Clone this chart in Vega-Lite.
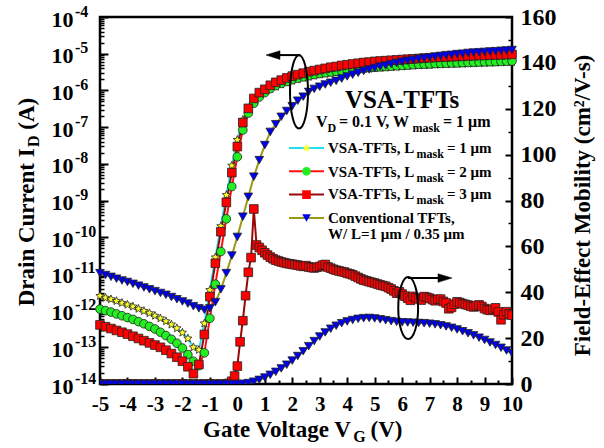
{
"$schema": "https://vega.github.io/schema/vega-lite/v6.json",
"width": 412, "height": 367,
"autosize": {"type": "none"},
"padding": {"left": 100, "top": 17, "right": 92, "bottom": 64},
"background": "white",
"datasets": {
"cur": [
{"s":"L1","x":-5,"i":2.51e-12},{"s":"L1","x":-4.8,"i":2.24e-12},{"s":"L1","x":-4.6,"i":2.04e-12},{"s":"L1","x":-4.4,"i":1.82e-12},{"s":"L1","x":-4.2,"i":1.62e-12},{"s":"L1","x":-4,"i":1.45e-12},{"s":"L1","x":-3.8,"i":1.29e-12},{"s":"L1","x":-3.6,"i":1.12e-12},{"s":"L1","x":-3.4,"i":9.77e-13},{"s":"L1","x":-3.2,"i":8.51e-13},{"s":"L1","x":-3,"i":7.24e-13},{"s":"L1","x":-2.8,"i":6.17e-13},{"s":"L1","x":-2.6,"i":5.13e-13},{"s":"L1","x":-2.4,"i":4.17e-13},{"s":"L1","x":-2.2,"i":3.31e-13},{"s":"L1","x":-2,"i":2.51e-13},{"s":"L1","x":-1.8,"i":1.74e-13},{"s":"L1","x":-1.6,"i":1.0e-13},{"s":"L1","x":-1.4,"i":8.51e-14},{"s":"L1","x":-1.2,"i":4.47e-13},{"s":"L1","x":-1,"i":3.63e-12},{"s":"L1","x":-0.8,"i":2.82e-11},{"s":"L1","x":-0.6,"i":2.0e-10},{"s":"L1","x":-0.4,"i":1.41e-9},{"s":"L1","x":-0.2,"i":8.91e-9},{"s":"L1","x":0,"i":4.47e-8},{"s":"L1","x":0.2,"i":1.58e-7},{"s":"L1","x":0.4,"i":3.31e-7},{"s":"L1","x":0.6,"i":5.37e-7},{"s":"L1","x":0.8,"i":7.59e-7},{"s":"L1","x":1,"i":9.55e-7},{"s":"L1","x":1.2,"i":1.1e-6},{"s":"L1","x":1.4,"i":1.26e-6},{"s":"L1","x":1.6,"i":1.45e-6},{"s":"L1","x":1.8,"i":1.62e-6},{"s":"L1","x":2,"i":1.82e-6},{"s":"L1","x":2.2,"i":2.0e-6},{"s":"L1","x":2.4,"i":2.19e-6},{"s":"L1","x":2.6,"i":2.34e-6},{"s":"L1","x":2.8,"i":2.51e-6},{"s":"L1","x":3,"i":2.69e-6},{"s":"L1","x":3.2,"i":2.82e-6},{"s":"L1","x":3.4,"i":2.95e-6},{"s":"L1","x":3.6,"i":3.09e-6},{"s":"L1","x":3.8,"i":3.24e-6},{"s":"L1","x":4,"i":3.39e-6},{"s":"L1","x":4.2,"i":3.55e-6},{"s":"L1","x":4.4,"i":3.63e-6},{"s":"L1","x":4.6,"i":3.8e-6},{"s":"L1","x":4.8,"i":3.89e-6},{"s":"L1","x":5,"i":3.98e-6},{"s":"L1","x":5.2,"i":4.07e-6},{"s":"L1","x":5.4,"i":4.17e-6},{"s":"L1","x":5.6,"i":4.27e-6},{"s":"L1","x":5.8,"i":4.37e-6},{"s":"L1","x":6,"i":4.47e-6},{"s":"L1","x":6.2,"i":4.57e-6},{"s":"L1","x":6.4,"i":4.68e-6},{"s":"L1","x":6.6,"i":4.79e-6},{"s":"L1","x":6.8,"i":4.84e-6},{"s":"L1","x":7,"i":4.9e-6},{"s":"L1","x":7.2,"i":5.01e-6},{"s":"L1","x":7.4,"i":5.07e-6},{"s":"L1","x":7.6,"i":5.13e-6},{"s":"L1","x":7.8,"i":5.19e-6},{"s":"L1","x":8,"i":5.25e-6},{"s":"L1","x":8.2,"i":5.31e-6},{"s":"L1","x":8.4,"i":5.37e-6},{"s":"L1","x":8.6,"i":5.43e-6},{"s":"L1","x":8.8,"i":5.5e-6},{"s":"L1","x":9,"i":5.56e-6},{"s":"L1","x":9.2,"i":5.62e-6},{"s":"L1","x":9.4,"i":5.68e-6},{"s":"L1","x":9.6,"i":5.75e-6},{"s":"L1","x":9.8,"i":5.82e-6},{"s":"L1","x":10,"i":5.89e-6},
{"s":"L2","x":-5,"i":1.1e-12},{"s":"L2","x":-4.8,"i":1.0e-12},{"s":"L2","x":-4.6,"i":9.12e-13},{"s":"L2","x":-4.4,"i":8.13e-13},{"s":"L2","x":-4.2,"i":7.24e-13},{"s":"L2","x":-4,"i":6.46e-13},{"s":"L2","x":-3.8,"i":5.75e-13},{"s":"L2","x":-3.6,"i":5.01e-13},{"s":"L2","x":-3.4,"i":4.37e-13},{"s":"L2","x":-3.2,"i":3.72e-13},{"s":"L2","x":-3,"i":3.16e-13},{"s":"L2","x":-2.8,"i":2.57e-13},{"s":"L2","x":-2.6,"i":2.09e-13},{"s":"L2","x":-2.4,"i":1.66e-13},{"s":"L2","x":-2.2,"i":1.29e-13},{"s":"L2","x":-2,"i":9.55e-14},{"s":"L2","x":-1.8,"i":6.31e-14},{"s":"L2","x":-1.6,"i":4.17e-14},{"s":"L2","x":-1.4,"i":3.16e-14},{"s":"L2","x":-1.2,"i":7.08e-14},{"s":"L2","x":-1,"i":6.17e-13},{"s":"L2","x":-0.8,"i":5.25e-12},{"s":"L2","x":-0.6,"i":4.07e-11},{"s":"L2","x":-0.4,"i":3.16e-10},{"s":"L2","x":-0.2,"i":2.4e-9},{"s":"L2","x":0,"i":1.55e-8},{"s":"L2","x":0.2,"i":8.32e-8},{"s":"L2","x":0.4,"i":2.4e-7},{"s":"L2","x":0.6,"i":4.47e-7},{"s":"L2","x":0.8,"i":6.61e-7},{"s":"L2","x":1,"i":8.71e-7},{"s":"L2","x":1.2,"i":1.12e-6},{"s":"L2","x":1.4,"i":1.35e-6},{"s":"L2","x":1.6,"i":1.55e-6},{"s":"L2","x":1.8,"i":1.74e-6},{"s":"L2","x":2,"i":1.95e-6},{"s":"L2","x":2.2,"i":2.14e-6},{"s":"L2","x":2.4,"i":2.34e-6},{"s":"L2","x":2.6,"i":2.51e-6},{"s":"L2","x":2.8,"i":2.69e-6},{"s":"L2","x":3,"i":2.88e-6},{"s":"L2","x":3.2,"i":3.02e-6},{"s":"L2","x":3.4,"i":3.16e-6},{"s":"L2","x":3.6,"i":3.31e-6},{"s":"L2","x":3.8,"i":3.47e-6},{"s":"L2","x":4,"i":3.63e-6},{"s":"L2","x":4.2,"i":3.8e-6},{"s":"L2","x":4.4,"i":3.89e-6},{"s":"L2","x":4.6,"i":4.07e-6},{"s":"L2","x":4.8,"i":4.17e-6},{"s":"L2","x":5,"i":4.27e-6},{"s":"L2","x":5.2,"i":4.37e-6},{"s":"L2","x":5.4,"i":4.47e-6},{"s":"L2","x":5.6,"i":4.57e-6},{"s":"L2","x":5.8,"i":4.68e-6},{"s":"L2","x":6,"i":4.79e-6},{"s":"L2","x":6.2,"i":4.9e-6},{"s":"L2","x":6.4,"i":5.01e-6},{"s":"L2","x":6.6,"i":5.13e-6},{"s":"L2","x":6.8,"i":5.19e-6},{"s":"L2","x":7,"i":5.25e-6},{"s":"L2","x":7.2,"i":5.37e-6},{"s":"L2","x":7.4,"i":5.43e-6},{"s":"L2","x":7.6,"i":5.5e-6},{"s":"L2","x":7.8,"i":5.56e-6},{"s":"L2","x":8,"i":5.62e-6},{"s":"L2","x":8.2,"i":5.68e-6},{"s":"L2","x":8.4,"i":5.75e-6},{"s":"L2","x":8.6,"i":5.82e-6},{"s":"L2","x":8.8,"i":5.89e-6},{"s":"L2","x":9,"i":5.96e-6},{"s":"L2","x":9.2,"i":6.03e-6},{"s":"L2","x":9.4,"i":6.1e-6},{"s":"L2","x":9.6,"i":6.17e-6},{"s":"L2","x":9.8,"i":6.24e-6},{"s":"L2","x":10,"i":6.31e-6},
{"s":"L3","x":-5,"i":4.07e-13},{"s":"L3","x":-4.8,"i":3.63e-13},{"s":"L3","x":-4.6,"i":3.24e-13},{"s":"L3","x":-4.4,"i":2.88e-13},{"s":"L3","x":-4.2,"i":2.57e-13},{"s":"L3","x":-4,"i":2.29e-13},{"s":"L3","x":-3.8,"i":2.0e-13},{"s":"L3","x":-3.6,"i":1.74e-13},{"s":"L3","x":-3.4,"i":1.51e-13},{"s":"L3","x":-3.2,"i":1.32e-13},{"s":"L3","x":-3,"i":1.15e-13},{"s":"L3","x":-2.8,"i":1.0e-13},{"s":"L3","x":-2.6,"i":8.32e-14},{"s":"L3","x":-2.4,"i":6.76e-14},{"s":"L3","x":-2.2,"i":5.37e-14},{"s":"L3","x":-2,"i":4.17e-14},{"s":"L3","x":-1.8,"i":2.95e-14},{"s":"L3","x":-1.6,"i":1.91e-14},{"s":"L3","x":-1.4,"i":3.39e-14},{"s":"L3","x":-1.2,"i":2.24e-13},{"s":"L3","x":-1,"i":2.4e-12},{"s":"L3","x":-0.8,"i":1.95e-11},{"s":"L3","x":-0.6,"i":1.41e-10},{"s":"L3","x":-0.4,"i":8.91e-10},{"s":"L3","x":-0.2,"i":5.75e-9},{"s":"L3","x":0,"i":2.95e-8},{"s":"L3","x":0.2,"i":1.32e-7},{"s":"L3","x":0.4,"i":3.24e-7},{"s":"L3","x":0.6,"i":6.03e-7},{"s":"L3","x":0.8,"i":8.71e-7},{"s":"L3","x":1,"i":1.07e-6},{"s":"L3","x":1.2,"i":1.38e-6},{"s":"L3","x":1.4,"i":1.66e-6},{"s":"L3","x":1.6,"i":1.91e-6},{"s":"L3","x":1.8,"i":2.19e-6},{"s":"L3","x":2,"i":2.45e-6},{"s":"L3","x":2.2,"i":2.69e-6},{"s":"L3","x":2.4,"i":2.95e-6},{"s":"L3","x":2.6,"i":3.24e-6},{"s":"L3","x":2.8,"i":3.47e-6},{"s":"L3","x":3,"i":3.72e-6},{"s":"L3","x":3.2,"i":3.98e-6},{"s":"L3","x":3.4,"i":4.27e-6},{"s":"L3","x":3.6,"i":4.47e-6},{"s":"L3","x":3.8,"i":4.79e-6},{"s":"L3","x":4,"i":5.01e-6},{"s":"L3","x":4.2,"i":5.25e-6},{"s":"L3","x":4.4,"i":5.5e-6},{"s":"L3","x":4.6,"i":5.75e-6},{"s":"L3","x":4.8,"i":5.89e-6},{"s":"L3","x":5,"i":6.17e-6},{"s":"L3","x":5.2,"i":6.31e-6},{"s":"L3","x":5.4,"i":6.46e-6},{"s":"L3","x":5.6,"i":6.61e-6},{"s":"L3","x":5.8,"i":6.76e-6},{"s":"L3","x":6,"i":6.92e-6},{"s":"L3","x":6.2,"i":7.08e-6},{"s":"L3","x":6.4,"i":7.24e-6},{"s":"L3","x":6.6,"i":7.41e-6},{"s":"L3","x":6.8,"i":7.59e-6},{"s":"L3","x":7,"i":7.76e-6},{"s":"L3","x":7.2,"i":7.94e-6},{"s":"L3","x":7.4,"i":8.04e-6},{"s":"L3","x":7.6,"i":8.13e-6},{"s":"L3","x":7.8,"i":8.32e-6},{"s":"L3","x":8,"i":8.42e-6},{"s":"L3","x":8.2,"i":8.51e-6},{"s":"L3","x":8.4,"i":8.71e-6},{"s":"L3","x":8.6,"i":8.81e-6},{"s":"L3","x":8.8,"i":8.91e-6},{"s":"L3","x":9,"i":9.02e-6},{"s":"L3","x":9.2,"i":9.12e-6},{"s":"L3","x":9.4,"i":9.23e-6},{"s":"L3","x":9.6,"i":9.33e-6},{"s":"L3","x":9.8,"i":9.44e-6},{"s":"L3","x":10,"i":9.55e-6},
{"s":"Conv","x":-5,"i":1.05e-11},{"s":"Conv","x":-4.8,"i":9.33e-12},{"s":"Conv","x":-4.6,"i":8.32e-12},{"s":"Conv","x":-4.4,"i":7.41e-12},{"s":"Conv","x":-4.2,"i":6.61e-12},{"s":"Conv","x":-4,"i":6.03e-12},{"s":"Conv","x":-3.8,"i":5.37e-12},{"s":"Conv","x":-3.6,"i":4.79e-12},{"s":"Conv","x":-3.4,"i":4.27e-12},{"s":"Conv","x":-3.2,"i":3.8e-12},{"s":"Conv","x":-3,"i":3.39e-12},{"s":"Conv","x":-2.8,"i":3.02e-12},{"s":"Conv","x":-2.6,"i":2.69e-12},{"s":"Conv","x":-2.4,"i":2.34e-12},{"s":"Conv","x":-2.2,"i":2.04e-12},{"s":"Conv","x":-2,"i":1.78e-12},{"s":"Conv","x":-1.8,"i":1.55e-12},{"s":"Conv","x":-1.6,"i":1.32e-12},{"s":"Conv","x":-1.4,"i":1.15e-12},{"s":"Conv","x":-1.2,"i":1.05e-12},{"s":"Conv","x":-1,"i":1.15e-12},{"s":"Conv","x":-0.8,"i":1.7e-12},{"s":"Conv","x":-0.6,"i":3.8e-12},{"s":"Conv","x":-0.4,"i":1.05e-11},{"s":"Conv","x":-0.2,"i":3.16e-11},{"s":"Conv","x":0,"i":1.02e-10},{"s":"Conv","x":0.2,"i":3.63e-10},{"s":"Conv","x":0.4,"i":1.26e-9},{"s":"Conv","x":0.6,"i":4.47e-9},{"s":"Conv","x":0.8,"i":1.26e-8},{"s":"Conv","x":1,"i":3.24e-8},{"s":"Conv","x":1.2,"i":7.41e-8},{"s":"Conv","x":1.4,"i":1.2e-7},{"s":"Conv","x":1.6,"i":1.91e-7},{"s":"Conv","x":1.8,"i":2.75e-7},{"s":"Conv","x":2,"i":3.72e-7},{"s":"Conv","x":2.2,"i":5.25e-7},{"s":"Conv","x":2.4,"i":6.76e-7},{"s":"Conv","x":2.6,"i":9.12e-7},{"s":"Conv","x":2.8,"i":1.1e-6},{"s":"Conv","x":3,"i":1.26e-6},{"s":"Conv","x":3.2,"i":1.45e-6},{"s":"Conv","x":3.4,"i":1.62e-6},{"s":"Conv","x":3.6,"i":1.82e-6},{"s":"Conv","x":3.8,"i":2.09e-6},{"s":"Conv","x":4,"i":2.4e-6},{"s":"Conv","x":4.2,"i":2.69e-6},{"s":"Conv","x":4.4,"i":3.02e-6},{"s":"Conv","x":4.6,"i":3.39e-6},{"s":"Conv","x":4.8,"i":3.72e-6},{"s":"Conv","x":5,"i":4.07e-6},{"s":"Conv","x":5.2,"i":4.47e-6},{"s":"Conv","x":5.4,"i":4.79e-6},{"s":"Conv","x":5.6,"i":5.25e-6},{"s":"Conv","x":5.8,"i":5.62e-6},{"s":"Conv","x":6,"i":6.03e-6},{"s":"Conv","x":6.2,"i":6.46e-6},{"s":"Conv","x":6.4,"i":6.76e-6},{"s":"Conv","x":6.6,"i":7.24e-6},{"s":"Conv","x":6.8,"i":7.59e-6},{"s":"Conv","x":7,"i":7.94e-6},{"s":"Conv","x":7.2,"i":8.32e-6},{"s":"Conv","x":7.4,"i":8.71e-6},{"s":"Conv","x":7.6,"i":9.12e-6},{"s":"Conv","x":7.8,"i":9.33e-6},{"s":"Conv","x":8,"i":9.77e-6},{"s":"Conv","x":8.2,"i":1.0e-5},{"s":"Conv","x":8.4,"i":1.05e-5},{"s":"Conv","x":8.6,"i":1.07e-5},{"s":"Conv","x":8.8,"i":1.1e-5},{"s":"Conv","x":9,"i":1.12e-5},{"s":"Conv","x":9.2,"i":1.15e-5},{"s":"Conv","x":9.4,"i":1.17e-5},{"s":"Conv","x":9.6,"i":1.2e-5},{"s":"Conv","x":9.8,"i":1.23e-5},{"s":"Conv","x":10,"i":1.26e-5}
],
"mob": [
{"s":"L3","x":-5,"m":0},{"s":"L3","x":-4.8,"m":0},{"s":"L3","x":-4.6,"m":0},{"s":"L3","x":-4.4,"m":0},{"s":"L3","x":-4.2,"m":0},{"s":"L3","x":-4,"m":0},{"s":"L3","x":-3.8,"m":0},{"s":"L3","x":-3.6,"m":0},{"s":"L3","x":-3.4,"m":0},{"s":"L3","x":-3.2,"m":0},{"s":"L3","x":-3,"m":0},{"s":"L3","x":-2.8,"m":0},{"s":"L3","x":-2.6,"m":0},{"s":"L3","x":-2.4,"m":0},{"s":"L3","x":-2.2,"m":0},{"s":"L3","x":-2,"m":0},{"s":"L3","x":-1.8,"m":0},{"s":"L3","x":-1.6,"m":0},{"s":"L3","x":-1.4,"m":0},{"s":"L3","x":-1.2,"m":0},{"s":"L3","x":-1,"m":0},{"s":"L3","x":-0.8,"m":0},{"s":"L3","x":-0.6,"m":0},{"s":"L3","x":-0.4,"m":0},{"s":"L3","x":-0.3,"m":0.3},{"s":"L3","x":-0.2,"m":1.2},{"s":"L3","x":-0.1,"m":3.5},{"s":"L3","x":0,"m":7.8},{"s":"L3","x":0.1,"m":18.4},{"s":"L3","x":0.2,"m":27.6},{"s":"L3","x":0.3,"m":38.5},{"s":"L3","x":0.4,"m":48.7},{"s":"L3","x":0.5,"m":55.1},{"s":"L3","x":0.6,"m":76.3},{"s":"L3","x":0.7,"m":60.6},{"s":"L3","x":0.8,"m":59.5},{"s":"L3","x":0.9,"m":58.3},{"s":"L3","x":1,"m":57.2},{"s":"L3","x":1.1,"m":56.2},{"s":"L3","x":1.2,"m":55.3},{"s":"L3","x":1.3,"m":54.6},{"s":"L3","x":1.4,"m":54.0},{"s":"L3","x":1.5,"m":53.6},{"s":"L3","x":1.6,"m":53.2},{"s":"L3","x":1.7,"m":52.9},{"s":"L3","x":1.8,"m":52.6},{"s":"L3","x":1.9,"m":52.4},{"s":"L3","x":2,"m":52.2},{"s":"L3","x":2.1,"m":52.0},{"s":"L3","x":2.2,"m":51.8},{"s":"L3","x":2.3,"m":51.5},{"s":"L3","x":2.4,"m":51.3},{"s":"L3","x":2.5,"m":51.6},{"s":"L3","x":2.6,"m":51.0},{"s":"L3","x":2.7,"m":50.8},{"s":"L3","x":2.8,"m":50.6},{"s":"L3","x":2.9,"m":50.9},{"s":"L3","x":3,"m":51.2},{"s":"L3","x":3.1,"m":51.8},{"s":"L3","x":3.2,"m":52.1},{"s":"L3","x":3.3,"m":51.0},{"s":"L3","x":3.4,"m":50.5},{"s":"L3","x":3.5,"m":50.0},{"s":"L3","x":3.6,"m":49.6},{"s":"L3","x":3.7,"m":49.3},{"s":"L3","x":3.8,"m":49.0},{"s":"L3","x":3.9,"m":48.8},{"s":"L3","x":4,"m":48.3},{"s":"L3","x":4.1,"m":48.0},{"s":"L3","x":4.2,"m":47.6},{"s":"L3","x":4.3,"m":47.0},{"s":"L3","x":4.4,"m":46.4},{"s":"L3","x":4.5,"m":45.8},{"s":"L3","x":4.6,"m":45.3},{"s":"L3","x":4.7,"m":45.0},{"s":"L3","x":4.8,"m":44.6},{"s":"L3","x":4.9,"m":44.3},{"s":"L3","x":5,"m":44.0},{"s":"L3","x":5.1,"m":43.6},{"s":"L3","x":5.2,"m":43.2},{"s":"L3","x":5.3,"m":42.9},{"s":"L3","x":5.4,"m":42.6},{"s":"L3","x":5.5,"m":42.0},{"s":"L3","x":5.6,"m":41.4},{"s":"L3","x":5.7,"m":40.6},{"s":"L3","x":5.8,"m":39.6},{"s":"L3","x":5.9,"m":40.2},{"s":"L3","x":6,"m":39.2},{"s":"L3","x":6.1,"m":38.3},{"s":"L3","x":6.2,"m":37.4},{"s":"L3","x":6.3,"m":36.5},{"s":"L3","x":6.4,"m":38.2},{"s":"L3","x":6.5,"m":37.6},{"s":"L3","x":6.6,"m":37.1},{"s":"L3","x":6.7,"m":36.6},{"s":"L3","x":6.8,"m":38.1},{"s":"L3","x":6.9,"m":37.8},{"s":"L3","x":7,"m":37.4},{"s":"L3","x":7.1,"m":36.8},{"s":"L3","x":7.2,"m":36.3},{"s":"L3","x":7.3,"m":36.9},{"s":"L3","x":7.4,"m":37.0},{"s":"L3","x":7.5,"m":36.0},{"s":"L3","x":7.6,"m":35.3},{"s":"L3","x":7.7,"m":32.8},{"s":"L3","x":7.8,"m":33.4},{"s":"L3","x":7.9,"m":34.8},{"s":"L3","x":8,"m":35.8},{"s":"L3","x":8.1,"m":35.5},{"s":"L3","x":8.2,"m":35.0},{"s":"L3","x":8.3,"m":34.7},{"s":"L3","x":8.4,"m":34.4},{"s":"L3","x":8.5,"m":33.9},{"s":"L3","x":8.6,"m":33.6},{"s":"L3","x":8.7,"m":34.0},{"s":"L3","x":8.8,"m":34.5},{"s":"L3","x":8.9,"m":33.8},{"s":"L3","x":9,"m":32.9},{"s":"L3","x":9.1,"m":32.4},{"s":"L3","x":9.2,"m":32.1},{"s":"L3","x":9.3,"m":32.6},{"s":"L3","x":9.4,"m":33.2},{"s":"L3","x":9.5,"m":31.4},{"s":"L3","x":9.6,"m":28.0},{"s":"L3","x":9.7,"m":30.2},{"s":"L3","x":9.8,"m":31.5},{"s":"L3","x":9.9,"m":30.6},{"s":"L3","x":10,"m":30.0},
{"s":"Conv","x":-5,"m":0},{"s":"Conv","x":-4.8,"m":0},{"s":"Conv","x":-4.6,"m":0},{"s":"Conv","x":-4.4,"m":0},{"s":"Conv","x":-4.2,"m":0},{"s":"Conv","x":-4,"m":0},{"s":"Conv","x":-3.8,"m":0},{"s":"Conv","x":-3.6,"m":0},{"s":"Conv","x":-3.4,"m":0},{"s":"Conv","x":-3.2,"m":0},{"s":"Conv","x":-3,"m":0},{"s":"Conv","x":-2.8,"m":0},{"s":"Conv","x":-2.6,"m":0},{"s":"Conv","x":-2.4,"m":0},{"s":"Conv","x":-2.2,"m":0},{"s":"Conv","x":-2,"m":0},{"s":"Conv","x":-1.8,"m":0},{"s":"Conv","x":-1.6,"m":0},{"s":"Conv","x":-1.4,"m":0},{"s":"Conv","x":-1.2,"m":0},{"s":"Conv","x":-1,"m":0},{"s":"Conv","x":-0.8,"m":0},{"s":"Conv","x":-0.6,"m":0},{"s":"Conv","x":-0.4,"m":0},{"s":"Conv","x":-0.2,"m":0},{"s":"Conv","x":0,"m":0},{"s":"Conv","x":0.2,"m":0.1},{"s":"Conv","x":0.4,"m":0.4},{"s":"Conv","x":0.6,"m":1.0},{"s":"Conv","x":0.8,"m":1.8},{"s":"Conv","x":1,"m":2.8},{"s":"Conv","x":1.2,"m":4.0},{"s":"Conv","x":1.4,"m":5.3},{"s":"Conv","x":1.6,"m":6.8},{"s":"Conv","x":1.8,"m":8.4},{"s":"Conv","x":2,"m":10.2},{"s":"Conv","x":2.2,"m":12.2},{"s":"Conv","x":2.4,"m":14.3},{"s":"Conv","x":2.6,"m":16.5},{"s":"Conv","x":2.8,"m":18.7},{"s":"Conv","x":3,"m":20.7},{"s":"Conv","x":3.2,"m":22.5},{"s":"Conv","x":3.4,"m":24.1},{"s":"Conv","x":3.6,"m":25.4},{"s":"Conv","x":3.8,"m":26.5},{"s":"Conv","x":4,"m":27.3},{"s":"Conv","x":4.2,"m":27.9},{"s":"Conv","x":4.4,"m":28.4},{"s":"Conv","x":4.6,"m":28.7},{"s":"Conv","x":4.8,"m":28.8},{"s":"Conv","x":5,"m":28.6},{"s":"Conv","x":5.2,"m":28.2},{"s":"Conv","x":5.4,"m":27.8},{"s":"Conv","x":5.6,"m":27.4},{"s":"Conv","x":5.8,"m":27.1},{"s":"Conv","x":6,"m":26.9},{"s":"Conv","x":6.2,"m":26.8},{"s":"Conv","x":6.4,"m":26.7},{"s":"Conv","x":6.6,"m":26.6},{"s":"Conv","x":6.8,"m":26.5},{"s":"Conv","x":7,"m":26.3},{"s":"Conv","x":7.2,"m":26.0},{"s":"Conv","x":7.4,"m":25.6},{"s":"Conv","x":7.6,"m":25.1},{"s":"Conv","x":7.8,"m":24.5},{"s":"Conv","x":8,"m":23.8},{"s":"Conv","x":8.2,"m":23.0},{"s":"Conv","x":8.4,"m":22.1},{"s":"Conv","x":8.6,"m":21.2},{"s":"Conv","x":8.8,"m":20.2},{"s":"Conv","x":9,"m":19.2},{"s":"Conv","x":9.2,"m":18.1},{"s":"Conv","x":9.4,"m":17.0},{"s":"Conv","x":9.6,"m":15.8},{"s":"Conv","x":9.8,"m":14.6},{"s":"Conv","x":10,"m":13.4}
]
},
"data": {"values": [{}]},
"layer": [
{
"data": {"name": "cur"},
"mark": {"type": "line", "strokeWidth": 2},
"encoding": {
"x": {"field": "x", "type": "quantitative", "scale": {"domain": [-5, 10], "nice": false, "zero": false},
 "axis": {"orient": "bottom", "values": [-5,-4,-3,-2,-1,0,1,2,3,4,5,6,7,8,9,10], "labelExpr": "'' + datum.value", "tickSize": -7, "labelPadding": 16, "labelFontSize": 21, "title": "Gate Voltage V", "titleFontSize": 23, "titleX": 176.4, "titleY": 52, "titleAlign": "center", "titleBaseline": "alphabetic", "titleAngle": 0}},
"y": {"field": "i", "type": "quantitative", "scale": {"type": "log", "domain": [1e-14, 1e-4], "nice": false},
 "axis": {"orient": "left", "values": [1e-14,1e-13,1e-12,1e-11,1e-10,1e-9,1e-8,1e-7,1e-6,1e-5,1e-4], "labelExpr": "'10'", "tickSize": -8, "labelPadding": 35, "labelFontSize": 22, "labelOffset": 2, "labelAlign": "right", "labelBaseline": "middle", "title": "Drain Current I", "titleFontSize": 23, "titleX": -67, "titleY": 209.8, "titleAngle": -90, "titleAlign": "center", "titleBaseline": "alphabetic"}},
"color": {"field": "s", "type": "nominal",
 "scale": {"domain": ["L1","L2","L3","Conv","_"], "range": ["#22E0F0","#FF1010","#990808","#9A9A1A","#FFFFFF"]},
 "legend": {"values": ["L1","L2","L3","Conv"], "orient": "none", "legendX": 188, "legendY": 123, "direction": "vertical", "title": null, "symbolType": "stroke", "symbolSize": 1225, "symbolStrokeWidth": 2, "clipHeight": 16, "rowPadding": 7.3, "labelOffset": 3, "padding": 0, "labelFontSize": 15, "labelExpr": "''"}}
}
},
{
"data": {"name": "cur"},
"mark": {"type": "point", "filled": true, "size": 75, "stroke": "#222222", "strokeWidth": 0.8, "opacity": 1},
"encoding": {
"x": {"field": "x", "type": "quantitative", "scale": {"domain": [-5, 10], "nice": false, "zero": false},
 "axis": {"orient": "bottom", "values": [-4.5,-3.5,-2.5,-1.5,-0.5,0.5,1.5,2.5,3.5,4.5,5.5,6.5,7.5,8.5,9.5], "labels": false, "tickSize": -4, "title": "G", "titleFontSize": 16, "titleX": 258.9, "titleY": 57, "titleAlign": "center", "titleBaseline": "alphabetic", "titleAngle": 0}},
"y": {"field": "i", "type": "quantitative", "scale": {"type": "log", "domain": [1e-14, 1e-4], "nice": false},
 "axis": {"orient": "left", "values": [2e-14,3e-14,4e-14,5e-14,6e-14,7e-14,8e-14,9e-14,2e-13,3e-13,4e-13,5e-13,6e-13,7e-13,8e-13,9e-13,2e-12,3e-12,4e-12,5e-12,6e-12,7e-12,8e-12,9e-12,2e-11,3e-11,4e-11,5e-11,6e-11,7e-11,8e-11,9e-11,2e-10,3e-10,4e-10,5e-10,6e-10,7e-10,8e-10,9e-10,2e-9,3e-9,4e-9,5e-9,6e-9,7e-9,8e-9,9e-9,2e-8,3e-8,4e-8,5e-8,6e-8,7e-8,8e-8,9e-8,2e-7,3e-7,4e-7,5e-7,6e-7,7e-7,8e-7,9e-7,2e-6,3e-6,4e-6,5e-6,6e-6,7e-6,8e-6,9e-6,2e-5,3e-5,4e-5,5e-5,6e-5,7e-5,8e-5,9e-5], "labels": false, "tickSize": -4, "tickWidth": 1.5, "title": "D", "titleFontSize": 16, "titleX": -62, "titleY": 123.8, "titleAngle": -90, "titleAlign": "center", "titleBaseline": "alphabetic"}},
"fill": {"field": "s", "type": "nominal",
 "scale": {"domain": ["L1","L2","L3","Conv"], "range": ["#FFFF22","#22EE22","#FF0000","#0000EE"]},
 "legend": {"values": ["L1","L2","L3","Conv"], "orient": "none", "legendX": 188, "legendY": 123, "direction": "vertical", "title": null, "symbolSize": 75, "symbolOffset": 11, "symbolStrokeColor": "#222222", "symbolStrokeWidth": 0.8, "clipHeight": 16, "rowPadding": 7.3, "padding": 0, "labelExpr": "''", "labelFontSize": 15}},
"shape": {"field": "s", "type": "nominal",
 "scale": {"domain": ["L1","L2","L3","Conv"], "range": ["M0,-1L0.26,-0.36L0.951,-0.309L0.42,0.137L0.588,0.809L0,0.44L-0.588,0.809L-0.42,0.137L-0.951,-0.309L-0.26,-0.36Z","circle","square","triangle-down"]},
 "legend": {"values": ["L1","L2","L3","Conv"], "orient": "none", "legendX": 188, "legendY": 123, "direction": "vertical", "title": null, "symbolSize": 75, "symbolOffset": 11, "symbolStrokeColor": "#222222", "symbolStrokeWidth": 0.8, "clipHeight": 16, "rowPadding": 7.3, "padding": 0, "labelExpr": "''", "labelFontSize": 15}}
}
},
{
"data": {"name": "mob"},
"mark": {"type": "line", "strokeWidth": 2, "clip": true},
"encoding": {
"x": {"field": "x", "type": "quantitative", "scale": {"domain": [-5, 10], "nice": false, "zero": false}, "axis": null},
"y": {"field": "m", "type": "quantitative", "scale": {"domain": [0, 160], "nice": false, "zero": false},
 "axis": {"orient": "right", "values": [0,20,40,60,80,100,120,140,160], "tickSize": -7, "labelPadding": 15, "labelFontSize": 24, "labelAlign": "left", "labelBaseline": "middle", "title": "Field-Effect Mobility (cm²/V-s)", "titleFontSize": 23, "titleX": 70, "titleY": 188, "titleAngle": -90, "titleAlign": "center", "titleBaseline": "middle"}},
"color": {"field": "s", "type": "nominal", "legend": null}
}
},
{
"data": {"name": "mob"},
"mark": {"type": "point", "filled": true, "size": 75, "stroke": "#222222", "strokeWidth": 0.8, "opacity": 1, "clip": true},
"encoding": {
"x": {"field": "x", "type": "quantitative", "scale": {"domain": [-5, 10], "nice": false, "zero": false}, "axis": null},
"y": {"field": "m", "type": "quantitative", "scale": {"domain": [0, 160], "nice": false, "zero": false},
 "axis": {"orient": "right", "values": [10,30,50,70,90,110,130,150], "labels": false, "tickSize": -4, "tickWidth": 1.5, "title": null}},
"fill": {"field": "s", "type": "nominal", "legend": null},
"shape": {"field": "s", "type": "nominal", "legend": null}
}
},
{
"mark": {"type": "point", "shape": "M0,-1A0.245,1,0,1,1,0,1A0.245,1,0,1,1,0,-1Z", "size": 5388, "filled": false, "stroke": "black", "strokeWidth": 2, "opacity": 1},
"encoding": {
"x": {"datum": 2.245, "type": "quantitative", "scale": {"domain": [-5, 10], "nice": false, "zero": false},
 "axis": {"orient": "bottom", "values": [], "title": "(V)", "titleFontSize": 23, "titleX": 286, "titleY": 52, "titleAlign": "center", "titleBaseline": "alphabetic", "titleAngle": 0}},
"y": {"datum": 9.1e-7, "type": "quantitative", "scale": {"type": "log", "domain": [1e-14, 1e-4], "nice": false},
 "axis": {"orient": "left", "values": [1e-14,1e-13,1e-12,1e-11,1e-10,1e-9,1e-8,1e-7,1e-6,1e-5,1e-4], "labelExpr": "'-' + round(-log(datum.value)/LN10)", "ticks": true, "tickSize": 0, "tickOpacity": 0, "labelPadding": 25.5, "labelFontSize": 16, "labelOffset": -6, "labelAlign": "left", "labelBaseline": "middle", "title": "(A)", "titleFontSize": 23, "titleX": -67, "titleY": 96.3, "titleAngle": -90, "titleAlign": "center", "titleBaseline": "alphabetic"}}
}
},
{
"mark": {"type": "point", "shape": "M0,-1A0.32,1,0,1,1,0,1A0.32,1,0,1,1,0,-1Z", "size": 3844, "filled": false, "stroke": "black", "strokeWidth": 2, "opacity": 1},
"encoding": {
"x": {"datum": 6.22, "type": "quantitative", "scale": {"domain": [-5, 10], "nice": false, "zero": false}, "axis": null},
"y": {"datum": 33.1, "type": "quantitative", "scale": {"domain": [0, 160], "nice": false, "zero": false}, "axis": null}
}
},
{
"mark": {"type": "rule", "stroke": "black", "strokeWidth": 2},
"encoding": {
"x": {"datum": 1.25, "type": "quantitative", "scale": {"domain": [-5, 10], "nice": false, "zero": false}, "axis": null},
"x2": {"datum": 2.3},
"y": {"datum": 143.4, "type": "quantitative", "scale": {"domain": [0, 160], "nice": false, "zero": false}, "axis": null}
}
},
{
"mark": {"type": "point", "shape": "M0,0L1,-0.31L1,0.31Z", "size": 784, "filled": true, "fill": "black", "stroke": "black", "strokeWidth": 0.5, "opacity": 1},
"encoding": {
"x": {"datum": 1.044, "type": "quantitative", "scale": {"domain": [-5, 10], "nice": false, "zero": false}, "axis": null},
"y": {"datum": 143.4, "type": "quantitative", "scale": {"domain": [0, 160], "nice": false, "zero": false}, "axis": null}
}
},
{
"mark": {"type": "rule", "stroke": "black", "strokeWidth": 2},
"encoding": {
"x": {"datum": 6.21, "type": "quantitative", "scale": {"domain": [-5, 10], "nice": false, "zero": false}, "axis": null},
"x2": {"datum": 7.6},
"y": {"datum": 46.2, "type": "quantitative", "scale": {"domain": [0, 160], "nice": false, "zero": false}, "axis": null}
}
},
{
"mark": {"type": "point", "shape": "M0,0L-1,-0.31L-1,0.31Z", "size": 784, "filled": true, "fill": "black", "stroke": "black", "strokeWidth": 0.5, "opacity": 1},
"encoding": {
"x": {"datum": 7.815, "type": "quantitative", "scale": {"domain": [-5, 10], "nice": false, "zero": false}, "axis": null},
"y": {"datum": 46.2, "type": "quantitative", "scale": {"domain": [0, 160], "nice": false, "zero": false}, "axis": null}
}
},
{
"mark": {"type": "text", "text": "VSA-TFTs", "font": "Liberation Serif", "fontWeight": "bold", "fontSize": 25, "align": "center", "baseline": "alphabetic", "color": "black"},
"encoding": {
"x": {"datum": 6.0, "type": "quantitative", "scale": {"domain": [-5, 10], "nice": false, "zero": false}, "axis": null},
"y": {"datum": 120.3, "type": "quantitative", "scale": {"domain": [0, 160], "nice": false, "zero": false}, "axis": null}
}
},
{
"mark": {"type": "text", "text": "V", "font": "Liberation Serif", "fontWeight": "bold", "fontSize": 16, "align": "left", "baseline": "alphabetic", "color": "black"},
"encoding": {
"x": {"datum": 2.864, "type": "quantitative", "scale": {"domain": [-5, 10], "nice": false, "zero": false}, "axis": null},
"y": {"datum": 112.2, "type": "quantitative", "scale": {"domain": [0, 160], "nice": false, "zero": false}, "axis": null}
}
},
{
"mark": {"type": "text", "text": "D", "font": "Liberation Serif", "fontWeight": "bold", "fontSize": 12, "align": "left", "baseline": "alphabetic", "color": "black"},
"encoding": {
"x": {"datum": 3.285, "type": "quantitative", "scale": {"domain": [-5, 10], "nice": false, "zero": false}, "axis": null},
"y": {"datum": 109.9, "type": "quantitative", "scale": {"domain": [0, 160], "nice": false, "zero": false}, "axis": null}
}
},
{
"mark": {"type": "text", "text": "= 0.1 V, W", "font": "Liberation Serif", "fontWeight": "bold", "fontSize": 16, "align": "left", "baseline": "alphabetic", "color": "black"},
"encoding": {
"x": {"datum": 3.701, "type": "quantitative", "scale": {"domain": [-5, 10], "nice": false, "zero": false}, "axis": null},
"y": {"datum": 112.2, "type": "quantitative", "scale": {"domain": [0, 160], "nice": false, "zero": false}, "axis": null}
}
},
{
"mark": {"type": "text", "text": "mask", "font": "Liberation Serif", "fontWeight": "bold", "fontSize": 12, "align": "left", "baseline": "alphabetic", "color": "black"},
"encoding": {
"x": {"datum": 6.377, "type": "quantitative", "scale": {"domain": [-5, 10], "nice": false, "zero": false}, "axis": null},
"y": {"datum": 109.9, "type": "quantitative", "scale": {"domain": [0, 160], "nice": false, "zero": false}, "axis": null}
}
},
{
"mark": {"type": "text", "text": "= 1 μm", "font": "Liberation Serif", "fontWeight": "bold", "fontSize": 16, "align": "left", "baseline": "alphabetic", "color": "black"},
"encoding": {
"x": {"datum": 7.488, "type": "quantitative", "scale": {"domain": [-5, 10], "nice": false, "zero": false}, "axis": null},
"y": {"datum": 112.2, "type": "quantitative", "scale": {"domain": [0, 160], "nice": false, "zero": false}, "axis": null}
}
},
{
"mark": {"type": "text", "text": "VSA-TFTs, L", "font": "Liberation Serif", "fontWeight": "bold", "fontSize": 15, "align": "left", "baseline": "alphabetic", "color": "black"},
"encoding": {
"x": {"datum": 3.301, "type": "quantitative", "scale": {"domain": [-5, 10], "nice": false, "zero": false}, "axis": null},
"y": {"datum": 100.8, "type": "quantitative", "scale": {"domain": [0, 160], "nice": false, "zero": false}, "axis": null}
}
},
{
"mark": {"type": "text", "text": "mask", "font": "Liberation Serif", "fontWeight": "bold", "fontSize": 12, "align": "left", "baseline": "alphabetic", "color": "black"},
"encoding": {
"x": {"datum": 6.523, "type": "quantitative", "scale": {"domain": [-5, 10], "nice": false, "zero": false}, "axis": null},
"y": {"datum": 98.6, "type": "quantitative", "scale": {"domain": [0, 160], "nice": false, "zero": false}, "axis": null}
}
},
{
"mark": {"type": "text", "text": "= 1 μm", "font": "Liberation Serif", "fontWeight": "bold", "fontSize": 15, "align": "left", "baseline": "alphabetic", "color": "black"},
"encoding": {
"x": {"datum": 7.633, "type": "quantitative", "scale": {"domain": [-5, 10], "nice": false, "zero": false}, "axis": null},
"y": {"datum": 100.8, "type": "quantitative", "scale": {"domain": [0, 160], "nice": false, "zero": false}, "axis": null}
}
},
{
"mark": {"type": "text", "text": "VSA-TFTs, L", "font": "Liberation Serif", "fontWeight": "bold", "fontSize": 15, "align": "left", "baseline": "alphabetic", "color": "black"},
"encoding": {
"x": {"datum": 3.301, "type": "quantitative", "scale": {"domain": [-5, 10], "nice": false, "zero": false}, "axis": null},
"y": {"datum": 90.4, "type": "quantitative", "scale": {"domain": [0, 160], "nice": false, "zero": false}, "axis": null}
}
},
{
"mark": {"type": "text", "text": "mask", "font": "Liberation Serif", "fontWeight": "bold", "fontSize": 12, "align": "left", "baseline": "alphabetic", "color": "black"},
"encoding": {
"x": {"datum": 6.523, "type": "quantitative", "scale": {"domain": [-5, 10], "nice": false, "zero": false}, "axis": null},
"y": {"datum": 88.2, "type": "quantitative", "scale": {"domain": [0, 160], "nice": false, "zero": false}, "axis": null}
}
},
{
"mark": {"type": "text", "text": "= 2 μm", "font": "Liberation Serif", "fontWeight": "bold", "fontSize": 15, "align": "left", "baseline": "alphabetic", "color": "black"},
"encoding": {
"x": {"datum": 7.633, "type": "quantitative", "scale": {"domain": [-5, 10], "nice": false, "zero": false}, "axis": null},
"y": {"datum": 90.4, "type": "quantitative", "scale": {"domain": [0, 160], "nice": false, "zero": false}, "axis": null}
}
},
{
"mark": {"type": "text", "text": "VSA-TFTs, L", "font": "Liberation Serif", "fontWeight": "bold", "fontSize": 15, "align": "left", "baseline": "alphabetic", "color": "black"},
"encoding": {
"x": {"datum": 3.301, "type": "quantitative", "scale": {"domain": [-5, 10], "nice": false, "zero": false}, "axis": null},
"y": {"datum": 80.5, "type": "quantitative", "scale": {"domain": [0, 160], "nice": false, "zero": false}, "axis": null}
}
},
{
"mark": {"type": "text", "text": "mask", "font": "Liberation Serif", "fontWeight": "bold", "fontSize": 12, "align": "left", "baseline": "alphabetic", "color": "black"},
"encoding": {
"x": {"datum": 6.523, "type": "quantitative", "scale": {"domain": [-5, 10], "nice": false, "zero": false}, "axis": null},
"y": {"datum": 78.3, "type": "quantitative", "scale": {"domain": [0, 160], "nice": false, "zero": false}, "axis": null}
}
},
{
"mark": {"type": "text", "text": "= 3 μm", "font": "Liberation Serif", "fontWeight": "bold", "fontSize": 15, "align": "left", "baseline": "alphabetic", "color": "black"},
"encoding": {
"x": {"datum": 7.633, "type": "quantitative", "scale": {"domain": [-5, 10], "nice": false, "zero": false}, "axis": null},
"y": {"datum": 80.5, "type": "quantitative", "scale": {"domain": [0, 160], "nice": false, "zero": false}, "axis": null}
}
},
{
"mark": {"type": "text", "text": "Conventional TFTs,", "font": "Liberation Serif", "fontWeight": "bold", "fontSize": 15, "align": "left", "baseline": "alphabetic", "color": "black"},
"encoding": {
"x": {"datum": 3.301, "type": "quantitative", "scale": {"domain": [-5, 10], "nice": false, "zero": false}, "axis": null},
"y": {"datum": 70.3, "type": "quantitative", "scale": {"domain": [0, 160], "nice": false, "zero": false}, "axis": null}
}
},
{
"mark": {"type": "text", "text": "W/ L=1 μm / 0.35 μm", "font": "Liberation Serif", "fontWeight": "bold", "fontSize": 15, "align": "left", "baseline": "alphabetic", "color": "black"},
"encoding": {
"x": {"datum": 3.301, "type": "quantitative", "scale": {"domain": [-5, 10], "nice": false, "zero": false}, "axis": null},
"y": {"datum": 63.1, "type": "quantitative", "scale": {"domain": [0, 160], "nice": false, "zero": false}, "axis": null}
}
}
],
"resolve": {"scale": {"x": "independent", "y": "independent"}, "axis": {"x": "independent", "y": "independent"}},
"config": {
"font": "Liberation Serif",
"view": {"stroke": "black", "strokeWidth": 2.5},
"axis": {"domain": false, "grid": false, "ticks": true, "tickColor": "black", "tickWidth": 2, "labelFont": "Liberation Serif", "labelFontWeight": "bold", "labelColor": "black", "titleFont": "Liberation Serif", "titleFontWeight": "bold", "titleColor": "black", "labelOverlap": false, "labelFlush": false, "labelBound": false}
}
}
